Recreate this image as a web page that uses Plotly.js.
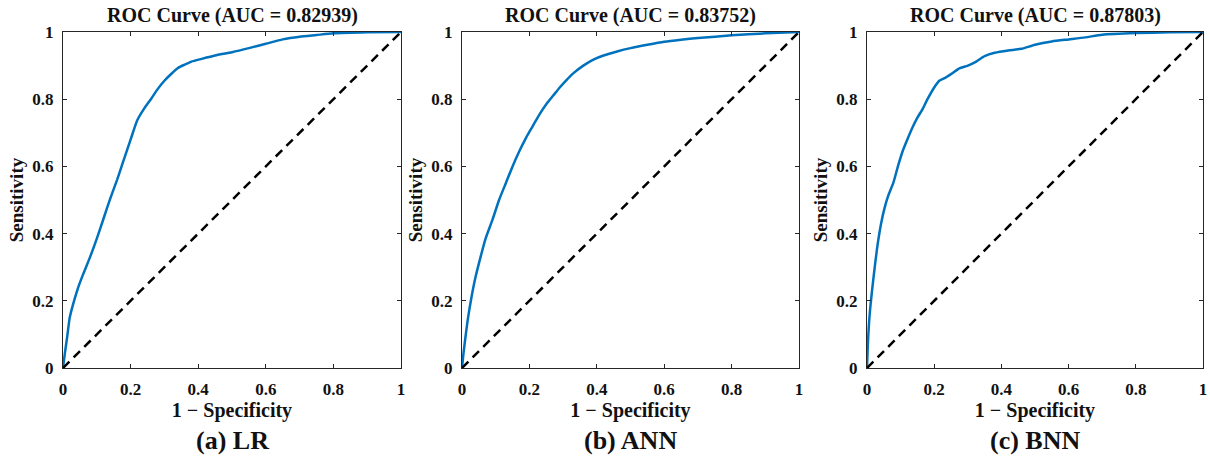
<!DOCTYPE html>
<html>
<head>
<meta charset="utf-8">
<script src="https://cdn.plot.ly/plotly-3.0.1.min.js"></script>
<style>html,body{margin:0;padding:0;background:#fff;}#chart{width:1210px;height:464px;}</style>
</head>
<body>
<div id="chart"></div>
<script>
// Panel titles, captions
const panelTitles = ["ROC Curve (AUC = 0.82939)", "ROC Curve (AUC = 0.83752)", "ROC Curve (AUC = 0.87803)"];
const captions = ["(a) LR", "(b) ANN", "(c) BNN"];
const xTitle = "1 \u2212 Specificity";
const yTitle = "Sensitivity";
const tickVals = [0, 0.2, 0.4, 0.6, 0.8, 1];
const tickText = ["0", "0.2", "0.4", "0.6", "0.8", "1"];

// (a) LR
const fprLR = [0, 0.005, 0.012, 0.02, 0.03, 0.045, 0.06, 0.08, 0.1, 0.12, 0.14, 0.16, 0.175, 0.19, 0.205, 0.22, 0.24, 0.26, 0.28, 0.3, 0.32, 0.34, 0.36, 0.38, 0.41, 0.45, 0.5, 0.55, 0.6, 0.65, 0.7, 0.75, 0.8, 0.9, 1];
const tprLR = [0, 0.04, 0.09, 0.15, 0.19, 0.24, 0.28, 0.33, 0.385, 0.445, 0.505, 0.56, 0.605, 0.65, 0.695, 0.738, 0.772, 0.80, 0.83, 0.855, 0.875, 0.893, 0.903, 0.912, 0.92, 0.93, 0.94, 0.952, 0.965, 0.978, 0.986, 0.991, 0.996, 0.999, 1];
// (b) ANN
const fprANN = [0, 0.004, 0.01, 0.018, 0.028, 0.04, 0.055, 0.07, 0.09, 0.11, 0.13, 0.15, 0.17, 0.19, 0.21, 0.23, 0.25, 0.27, 0.29, 0.31, 0.33, 0.36, 0.39, 0.42, 0.46, 0.5, 0.55, 0.6, 0.65, 0.7, 0.8, 0.9, 1];
const tprANN = [0, 0.04, 0.09, 0.15, 0.21, 0.27, 0.33, 0.385, 0.44, 0.50, 0.55, 0.60, 0.645, 0.685, 0.72, 0.755, 0.785, 0.81, 0.835, 0.857, 0.877, 0.9, 0.918, 0.93, 0.942, 0.952, 0.962, 0.971, 0.977, 0.982, 0.99, 0.996, 1];
// (c) BNN
const fprBNN = [0, 0.003, 0.008, 0.015, 0.023, 0.032, 0.042, 0.052, 0.064, 0.078, 0.092, 0.106, 0.12, 0.135, 0.15, 0.165, 0.18, 0.2, 0.215, 0.235, 0.255, 0.275, 0.3, 0.325, 0.35, 0.38, 0.42, 0.46, 0.5, 0.55, 0.6, 0.65, 0.7, 0.8, 0.9, 1];
const tprBNN = [0, 0.08, 0.16, 0.23, 0.30, 0.37, 0.43, 0.475, 0.515, 0.55, 0.60, 0.645, 0.68, 0.715, 0.745, 0.77, 0.80, 0.835, 0.855, 0.865, 0.878, 0.892, 0.90, 0.912, 0.928, 0.938, 0.945, 0.95, 0.962, 0.972, 0.978, 0.984, 0.992, 0.997, 0.999, 1];

const diagX = [0, 1];
const diagY = [0, 1];

const series = [[fprLR, tprLR], [fprANN, tprANN], [fprBNN, tprBNN]];
const FONT = "Liberation Serif";

const data = [];
series.forEach((s, i) => {
  const ax = i === 0 ? "" : String(i + 1);
  data.push({x: s[0], y: s[1], xaxis: "x" + ax, yaxis: "y" + ax, type: "scatter", mode: "lines",
    line: {color: "#0072BD", width: 2.5, shape: "spline", smoothing: 0.6}, showlegend: false, hoverinfo: "skip"});
  data.push({x: diagX, y: diagY, xaxis: "x" + ax, yaxis: "y" + ax, type: "scatter", mode: "lines",
    line: {color: "#000000", width: 2.5, dash: "9px,6px"}, showlegend: false, hoverinfo: "skip"});
});

const W = 1210, H = 464;
const xDom = [[63, 401], [462, 799], [867, 1203]];
const yDom = [(H - 368) / H, (H - 32) / H];

const layout = {
  width: W, height: H,
  margin: {l: 0, r: 0, t: 0, b: 0},
  paper_bgcolor: "#ffffff", plot_bgcolor: "#ffffff",
  font: {family: FONT, color: "#111111"},
  showlegend: false,
  annotations: []
};

function axisCommon() {
  return {
    range: [0, 1], tickmode: "array", tickvals: tickVals, ticktext: tickText,
    ticks: "inside", ticklen: 4, tickwidth: 1.2, tickcolor: "#262626",
    showline: true, linecolor: "#262626", linewidth: 1.2, mirror: "ticks",
    showgrid: false, zeroline: false, fixedrange: true,
    tickfont: {family: FONT, size: 17, color: "#111111", weight: "bold"},
    ticklabelstandoff: 5
  };
}

xDom.forEach((d, i) => {
  const ax = i === 0 ? "" : String(i + 1);
  const xa = axisCommon();
  xa.domain = [d[0] / W, d[1] / W];
  xa.anchor = "y" + ax;
  xa.title = {text: xTitle, font: {family: FONT, size: 20, color: "#111111", weight: "bold"}, standoff: 2};
  layout["xaxis" + ax] = xa;
  const ya = axisCommon();
  ya.domain = yDom;
  ya.anchor = "x" + ax;
  ya.title = {text: yTitle, font: {family: FONT, size: 19, color: "#111111", weight: "bold"}, standoff: 3};
  layout["yaxis" + ax] = ya;
  const cx = (d[0] + d[1]) / 2 / W;
  layout.annotations.push({text: panelTitles[i], xref: "paper", yref: "paper", x: cx, y: (H - 15) / H,
    xanchor: "center", yanchor: "middle", showarrow: false,
    font: {family: FONT, size: 20, color: "#111111", weight: "bold"}});
  layout.annotations.push({text: captions[i], xref: "paper", yref: "paper", x: cx, y: (H - 440) / H,
    xanchor: "center", yanchor: "middle", showarrow: false,
    font: {family: FONT, size: 26, color: "#111111", weight: "bold"}});
});

Plotly.newPlot("chart", data, layout, {displayModeBar: false, staticPlot: true});
</script>
</body>
</html>
